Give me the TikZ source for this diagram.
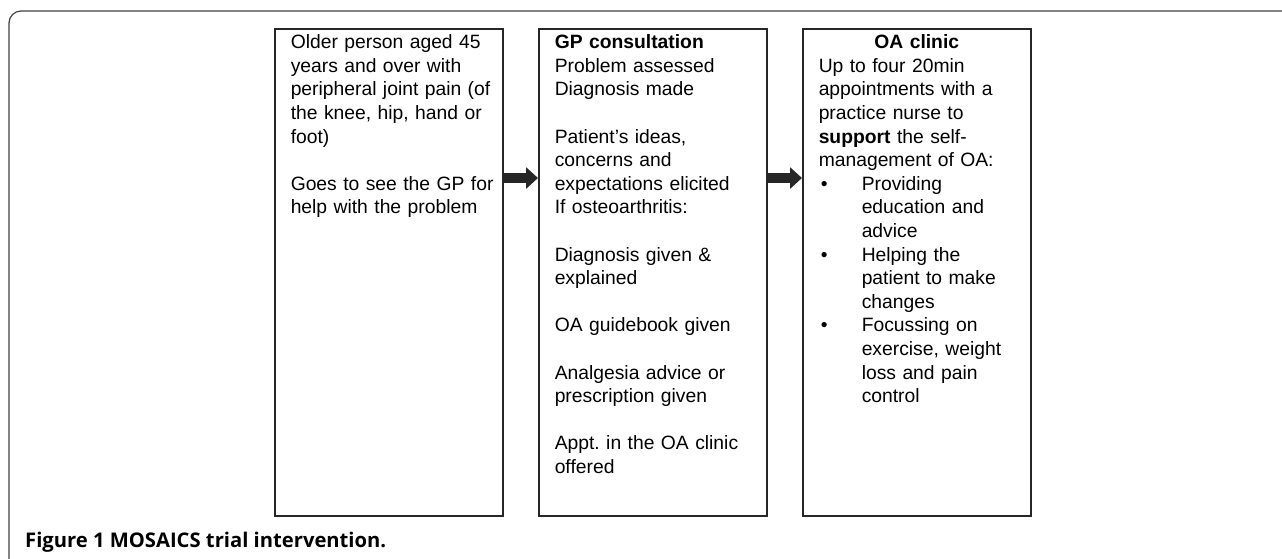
\documentclass[tikz,border=0pt]{standalone}
\usepackage{fontspec}
\setmainfont{Liberation Sans}
\newfontfamily\capfont{Open Sans}
\usetikzlibrary{arrows.meta}
\tikzset{
  stage/.style={draw=black!85, line width=1.5pt, anchor=north west,
    text width=220pt, inner xsep=4pt, inner ysep=10pt,
    text height=10pt, text depth=457pt, align=left,
    execute at begin node={\leftskip=12pt\relax},
    font=\fontsize{19.3}{23.6}\selectfont},
  flow/.style={line width=10pt, draw=black!85, -{Triangle[length=12pt,width=21pt]}},
}
\newcommand{\bulletitem}{\makebox[43pt][l]{\hspace{2pt}\textbullet}}
\newcommand{\itemcont}{\hspace*{43pt}}
\frenchspacing
\begin{document}
\begin{tikzpicture}[x=1pt,y=-1pt]
\useasboundingbox (0,0) rectangle (1282,558);
% outer frame
\draw[black!75, line width=1.2pt, rounded corners=12pt] (9,570) -- (9,11) -- (1290,11);
% the three stages
\node[stage] (older) at (274,28) {Older person aged 45\\years and over with\\peripheral joint pain (of\\the knee, hip, hand or\\foot)\\[23.6pt]
  Goes to see the GP for\\help with the problem};
\node[stage] (gp) at (538,28) {\textbf{GP consultation}\\Problem assessed\\Diagnosis made\\[23.6pt]
  Patient’s ideas,\\concerns and\\expectations elicited\\If osteoarthritis:\\[23.6pt]
  Diagnosis given \&\\explained\\[23.6pt]
  OA guidebook given\\[23.6pt]
  Analgesia advice or\\prescription given\\[23.6pt]
  Appt. in the OA clinic\\offered};
\node[stage] (clinic) at (802,28) {\makebox[196pt]{\textbf{OA clinic}}\\Up to four 20min\\appointments with a\\practice nurse to\\\textbf{support} the self-\\management of OA:\\
  \bulletitem Providing\\\itemcont education and\\\itemcont advice\\
  \bulletitem Helping the\\\itemcont patient to make\\\itemcont changes\\
  \bulletitem Focussing on\\\itemcont exercise, weight\\\itemcont loss and pain\\\itemcont control};
% arrows
\coordinate (row) at (0,178);
\draw[flow] (older.east |- row) -- (gp.west |- row);
\draw[flow] (gp.east |- row) -- (clinic.west |- row);
\node[anchor=base west, inner sep=0pt, font=\capfont\bfseries\fontsize{20.2}{23}\selectfont] (caption) at (25,547) {Figure 1 MOSAICS trial intervention.};
\end{tikzpicture}
\end{document}
